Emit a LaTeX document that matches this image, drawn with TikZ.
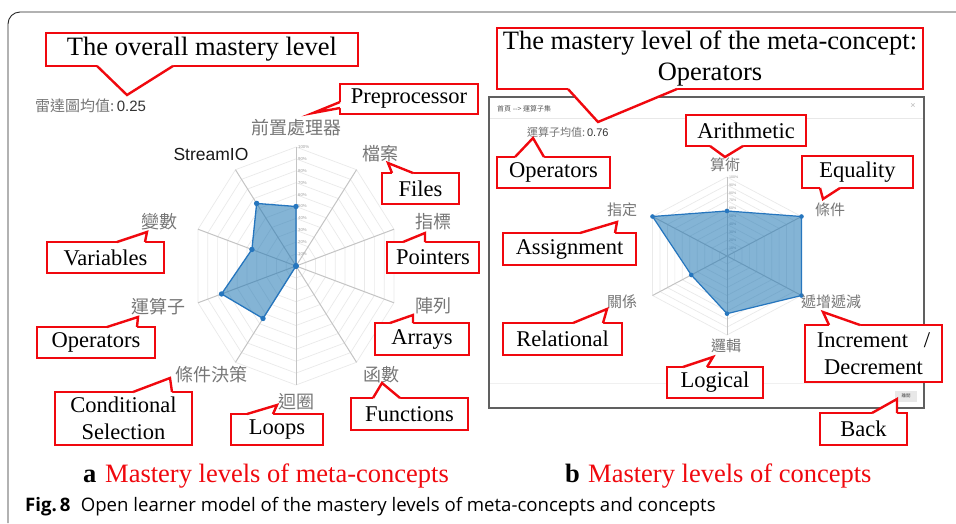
\documentclass[tikz,border=0pt]{standalone}
\usepackage{fontspec}
\setmainfont{Liberation Serif}
\newfontfamily\cjk{Noto Sans CJK TC}
\newfontfamily\uisans{Liberation Sans}
\newfontfamily\capsans{Open Sans}
\usetikzlibrary{calc}

\definecolor{callred}{RGB}{240,8,14}
\definecolor{zhgray}{RGB}{118,118,118}
\definecolor{gridgray}{RGB}{234,234,234}
\definecolor{axisgray}{RGB}{196,196,196}
\definecolor{radarblue}{RGB}{31,119,180}
\definecolor{radaredge}{RGB}{38,118,190}
\definecolor{winedge}{RGB}{96,96,96}

% pointer wedge of a callout: base point, tip, base point, inward shift
\newcommand\ptr[4]{%
  \fill[white] ($#1+#4$) -- #1 -- #2 -- #3 -- ($#3+#4$) -- cycle;
  \draw[ptrline] #1 -- #2 -- #3;}

\begin{document}
\begin{tikzpicture}[x=1pt,y=-1pt,
  callout/.style={draw=callred, line width=2.4pt, fill=white, inner sep=0pt,
    outer sep=0pt, anchor=north west, align=center,
    font=\fontsize{22.5}{26.5}\selectfont},
  bigcallout/.style={callout, font=\fontsize{26.5}{31.5}\selectfont},
  ptrline/.style={draw=callred, line width=2.4pt, line join=miter},
  zh/.style={text=zhgray, font=\cjk\fontsize{18}{18}\selectfont, inner sep=0pt},
  zhs/.style={text=zhgray, font=\cjk\fontsize{15}{15}\selectfont, inner sep=0pt},
  pct/.style={text=gray!75, font=\uisans\fontsize{4.3}{4.3}\selectfont,
    anchor=west, inner sep=0pt},
  gridl/.style={draw=gridgray, line width=0.7pt},
  axisl/.style={draw=axisgray, line width=1pt},
  datapoly/.style={fill=radarblue, fill opacity=0.55, draw=radaredge,
    draw opacity=1, line width=1.3pt, line join=round},
  datadot/.style={fill=radaredge},
  framel/.style={draw=black!85, line width=0.9pt, rounded corners=12pt},
  capred/.style={text=callred, font=\fontsize{26.5}{30}\selectfont,
    anchor=base west, inner sep=0pt},
  capletter/.style={font=\bfseries\fontsize{26.5}{30}\selectfont,
    anchor=base west, inner sep=0pt}]

\useasboundingbox (0,0) rectangle (956,523);
\fill[white] (0,0) rectangle (956,523);

% figure frame
\draw[framel] (8,523) -- (8,12) -- (956,12);

% ---------------- radar chart of the meta-concepts ----------------
\coordinate (Lc) at (296,266);
\foreach \r in {1,...,10}
  \draw[gridl] plot[samples at={0,36,...,360}]
    ({296+\r*10.3*sin(\x)},{266-\r*11.9*cos(\x)});
\foreach \a in {0,36,...,324}
  \draw[axisl] (Lc) -- ++({103*sin(\a)},{-119*cos(\a)});
\foreach \p in {1,...,10}
  \node[pct] at (298,{266-\p*11.9}) {\p0\%};
\foreach \v [count=\k from 0] in {0.5,0,0,0,0,0,0.545,0.76,0.45,0.65}
  \coordinate (L\k) at ($(Lc)+({\v*103*sin(\k*36)},{-\v*119*cos(\k*36)})$);
\filldraw[datapoly] (L0) -- (L1) -- (L2) -- (L3) -- (L4) -- (L5) -- (L6)
  -- (L7) -- (L8) -- (L9) -- cycle;
\foreach \k in {0,...,9} \fill[datadot] (L\k) circle (2.7);

\node[zh] (zPre)  at (296,128) {前置處理器};
\node[zh] (zFile) at (380,154) {檔案};
\node[zh] (zPtr)  at (433,222) {指標};
\node[zh] (zArr)  at (433,306) {陣列};
\node[zh] (zFun)  at (381,375) {函數};
\node[zh] (zLoop) at (296,402) {迴圈};
\node[zh] (zCond) at (211,375) {條件決策};
\node[zh] (zOps)  at (158,307) {運算子};
\node[zh] (zVar)  at (159,222) {變數};
\node[inner sep=0pt, text=black!90, font=\uisans\fontsize{17.5}{18}\selectfont]
  (zStream) at (211,154) {StreamIO};
\node[anchor=west, inner sep=0pt] (zAvg) at (35,106)
  {\textcolor{zhgray}{\cjk\fontsize{15}{15}\selectfont 雷達圖均值:}%
   \textcolor{black!80}{\uisans\fontsize{15}{15}\selectfont\,0.25}};

% ---------------- concept window ----------------
\draw[winedge, line width=1.6pt] (489,97) rectangle (924,408);
\draw[gray!18, line width=0.8pt] (490,118) -- (923,118);
\draw[gray!12, line width=0.8pt] (490,383) -- (923,383);
\node[anchor=west, inner sep=0pt, text=black!65, font=\cjk\fontsize{7}{7}\selectfont]
  (wHead) at (497,109) {首頁 -{}-{}> 運算子集};
\node[inner sep=0pt, text=gray!55, font=\uisans\fontsize{9}{9}\selectfont]
  (wClose) at (913,106) {×};
\node[fill=gray!18, minimum width=22pt, minimum height=11pt, inner sep=0pt,
  text=black!70, font=\cjk\fontsize{4.5}{4.5}\selectfont] (wBack) at (906,396) {離開};
\node[anchor=west, inner sep=0pt] (wAvg) at (527,132)
  {\textcolor{zhgray}{\cjk\fontsize{11}{11}\selectfont 運算子均值:}%
   \textcolor{black!80}{\uisans\fontsize{11}{11}\selectfont\,0.76}};

% radar chart of the concepts of Operators
\coordinate (Rc) at (727,256);
\foreach \r in {1,...,10}
  \draw[gridl] plot[samples at={0,60,...,360}]
    ({727+\r*8.6*sin(\x)},{256-\r*7.9*cos(\x)});
\foreach \a in {0,60,...,300}
  \draw[axisl] (Rc) -- ++({86*sin(\a)},{-79*cos(\a)});
\foreach \p in {1,...,10}
  \node[pct, font=\uisans\fontsize{3.6}{3.6}\selectfont] at (729,{256-\p*7.9}) {\p0\%};
\foreach \v [count=\k from 0] in {0.57,1,1,0.73,0.48,1}
  \coordinate (R\k) at ($(Rc)+({\v*86*sin(\k*60)},{-\v*79*cos(\k*60)})$);
\filldraw[datapoly, line width=1.2pt] (R0) -- (R1) -- (R2) -- (R3) -- (R4) -- (R5) -- cycle;
\foreach \k in {0,...,5} \fill[datadot] (R\k) circle (2.3);

\node[zhs] (zArith) at (725,165) {算術};
\node[zhs] (zEq)    at (830,210) {條件};
\node[zhs] (zInc)   at (831,302) {遞增遞減};
\node[zhs] (zLog)   at (726,346) {邏輯};
\node[zhs] (zRel)   at (622,302) {關係};
\node[zhs] (zAsg)   at (622,210) {指定};

% ---------------- callouts ----------------
\node[bigcallout, minimum width=312pt, minimum height=33pt] (cOverall) at (46,33)
  {The overall mastery level};
\ptr{(97,66)}{(127,95)}{(173,66)}{(0,-2)}

\node[callout, minimum width=138pt, minimum height=30pt] (cPre) at (340,84) {Preprocessor};
\ptr{(340,102)}{(313,113)}{(340,108)}{(2,0)}

\node[callout, minimum width=77pt, minimum height=31pt] (cFiles) at (382,173) {Files};
\ptr{(392,173)}{(388,163)}{(413,173)}{(0,2)}

\node[callout, minimum width=92pt, minimum height=31pt] (cPtr) at (387,242) {Pointers};
\ptr{(403,242)}{(425,233)}{(425,242)}{(0,2)}

\node[callout, minimum width=117pt, minimum height=31pt] (cVar) at (47,242) {Variables};
\ptr{(117,242)}{(147,232)}{(145,242)}{(0,2)}

\node[callout, minimum width=118pt, minimum height=31pt] (cOpsL) at (37,327) {Operators};
\ptr{(107,327)}{(138,317)}{(137,327)}{(0,2)}

\node[callout, minimum width=94pt, minimum height=32pt] (cArr) at (375,323) {Arrays};
\ptr{(390,323)}{(413,315)}{(413,323)}{(0,2)}

\node[callout, minimum width=137pt, minimum height=53pt] (cCond) at (55,392)
  {Conditional\\Selection};
\ptr{(133,392)}{(170,378)}{(172,392)}{(0,2)}

\node[callout, minimum width=92pt, minimum height=31pt] (cLoop) at (231,414) {Loops};
\ptr{(247,414)}{(277,405)}{(273,414)}{(0,2)}

\node[callout, minimum width=117pt, minimum height=32pt] (cFun) at (351,398) {Functions};
\ptr{(373,398)}{(382,383)}{(400,398)}{(0,2)}

\node[bigcallout, minimum width=426pt, minimum height=61pt] (cMeta) at (497,28)
  {The mastery level of the meta-concept:\\Operators};
\ptr{(568,89)}{(598,122)}{(677,89)}{(0,-2)}

\node[callout, minimum width=120pt, minimum height=31pt] (cArith) at (686,115) {Arithmetic};
\ptr{(710,146)}{(725,157)}{(743,146)}{(0,-2)}

\node[callout, minimum width=113pt, minimum height=31pt] (cOpsR) at (497,157) {Operators};
\ptr{(515,157)}{(533,138)}{(544,157)}{(0,2)}

\node[callout, minimum width=111pt, minimum height=32pt] (cEq) at (802,156) {Equality};
\ptr{(820,188)}{(823,199)}{(840,188)}{(0,-2)}

\node[callout, minimum width=133pt, minimum height=32pt] (cAsg) at (503,233) {Assignment};
\ptr{(580,233)}{(617,222)}{(615,233)}{(0,2)}

\node[callout, minimum width=119pt, minimum height=32pt] (cRel) at (503,323) {Relational};
\ptr{(573,323)}{(607,309)}{(603,323)}{(0,2)}

\node[callout, minimum width=96pt, minimum height=31pt] (cLog) at (667,367) {Logical};
\ptr{(683,367)}{(713,357)}{(707,367)}{(0,2)}

\node[callout, minimum width=137pt, minimum height=57pt] (cInc) at (805,325)
  {Increment\hspace{0.7em}/\\Decrement};
\ptr{(829,325)}{(823,312)}{(860,325)}{(0,2)}

\node[callout, minimum width=87pt, minimum height=32pt] (cBack) at (820,413) {Back};
\ptr{(872,413)}{(897,399)}{(897,413)}{(0,2)}

% ---------------- sub-captions ----------------
\node[capletter] (capA) at (83,482) {a};
\node[capred] (capAt) at (105,482) {Mastery levels of meta-concepts};
\node[capletter] (capB) at (565,482) {b};
\node[capred] (capBt) at (588,482) {Mastery levels of concepts};

% figure caption
\node[anchor=base west, inner sep=0pt, font=\capsans\fontsize{18.6}{20}\selectfont]
  (figcap) at (25,511)
  {\textbf{Fig.\,8}\hspace{0.55em}Open learner model of the mastery levels of meta-concepts and concepts};
\end{tikzpicture}
\end{document}
